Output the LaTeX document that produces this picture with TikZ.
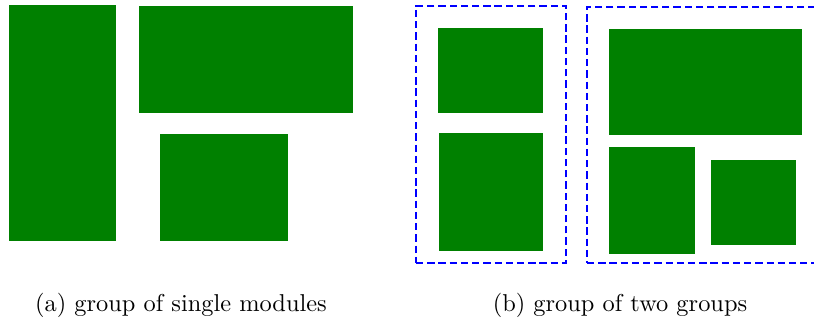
\documentclass[tikz,border=0pt]{standalone}
\definecolor{modgreen}{RGB}{0,128,0}
\newcommand{\un}{0.41pt}
\tikzset{
  modbox/.style={fill=modgreen, draw=none, inner sep=0pt, outer sep=0pt, rectangle},
  grpbox/.style={draw=blue, thick, dash pattern=on 3pt off 1.6pt, inner sep=0pt, outer sep=0pt, rectangle},
  caption/.style={inner sep=0pt, font=\normalsize}
}
\newcommand{\placebox}[6]{%
  \node[#1, minimum width={(#5-#3)*\un}, minimum height={(#6-#4)*\un}] (#2) at ({(#3+#5)/2},{(#4+#6)/2}) {};}
\begin{document}
\begin{tikzpicture}[x=\un, y=-\un]
\useasboundingbox (0,0) rectangle (814,325);
\clip (0,0) rectangle (814,325);
% (a)
\placebox{modbox}{a1}{9}{5}{116}{241}
\placebox{modbox}{a2}{139}{6}{353}{113}
\placebox{modbox}{a3}{160}{134}{288}{241}
% (b)
\placebox{grpbox}{g1}{416}{6}{566}{263}
\placebox{modbox}{b1}{438}{28}{543}{113}
\placebox{modbox}{b2}{439}{133}{543}{251}
\placebox{grpbox}{g2}{587}{7}{820}{263}
\placebox{modbox}{b3}{609}{29}{802}{135}
\placebox{modbox}{b4}{609}{147}{695}{254}
\placebox{modbox}{b5}{711}{160}{796}{245}
% captions
\node[caption] (capa) at (181,305) {(a) group of single modules};
\node[caption] (capb) at (620,305) {(b) group of two groups};
\end{tikzpicture}
\end{document}
